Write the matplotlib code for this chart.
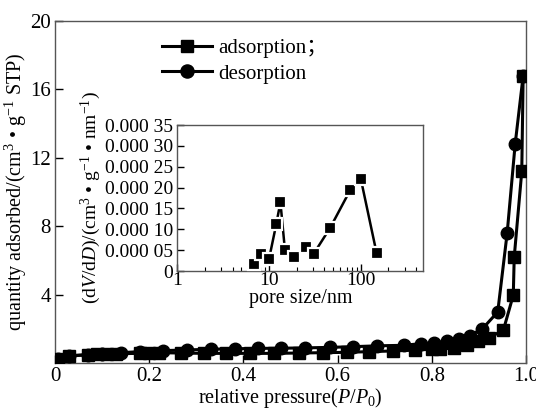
import matplotlib
matplotlib.use("Agg")
import matplotlib.pyplot as plt
from matplotlib.ticker import FixedLocator, NullFormatter, LogLocator

plt.rcParams['font.family'] = ['Liberation Serif', 'Noto Sans CJK SC', 'DejaVu Serif']
plt.rcParams['mathtext.fontset'] = 'custom'
plt.rcParams['mathtext.rm'] = 'Liberation Serif'
plt.rcParams['mathtext.it'] = 'Liberation Serif:italic'

# ---- main isotherm data ----
ads_x = [0.007, 0.03, 0.07, 0.09, 0.11, 0.13, 0.18, 0.20, 0.22, 0.267, 0.317, 0.364,
         0.415, 0.466, 0.517, 0.568, 0.619, 0.666, 0.717, 0.764, 0.80, 0.817, 0.848,
         0.874, 0.898, 0.922, 0.952, 0.973, 0.975, 0.991, 0.994]
ads_y = [0.28, 0.45, 0.50, 0.52, 0.54, 0.56, 0.58, 0.60, 0.62, 0.60, 0.58, 0.58,
         0.58, 0.58, 0.60, 0.62, 0.64, 0.68, 0.72, 0.77, 0.82, 0.85, 0.87,
         1.07, 1.32, 1.50, 1.94, 3.98, 6.2, 11.2, 16.8]
des_x = [0.007, 0.03, 0.07, 0.10, 0.14, 0.18, 0.23, 0.28, 0.331, 0.382, 0.43, 0.48,
         0.531, 0.584, 0.633, 0.684, 0.74, 0.778, 0.805, 0.832, 0.858, 0.881, 0.907,
         0.94, 0.960, 0.977, 0.994]
des_y = [0.28, 0.42, 0.50, 0.55, 0.62, 0.68, 0.74, 0.78, 0.82, 0.85, 0.87, 0.88,
         0.90, 0.93, 0.97, 1.02, 1.05, 1.15, 1.18, 1.32, 1.42, 1.62, 2.0,
         3.0, 7.6, 12.8, 16.8]

x_ticks = [0, 0.2, 0.4, 0.6, 0.8, 1.0]
x_ticklabels = ['0', '0.2', '0.4', '0.6', '0.8', '1.0']
y_ticks = [4, 8, 12, 16, 20]
y_ticklabels = ['4', '8', '12', '16', '20']

# ---- inset pore size distribution ----
pore_size = [6.8, 8.2, 10.0, 12.0, 13.3, 14.9, 18.7, 25.5, 30.6, 46.5, 76.7, 100, 149]
dvdd = [1.7e-5, 4.1e-5, 2.9e-5, 11.3e-5, 16.5e-5, 5.0e-5, 3.4e-5, 5.7e-5, 4.1e-5,
        10.4e-5, 19.4e-5, 22.1e-5, 4.2e-5]
inset_yticks = [0, 5e-5, 10e-5, 15e-5, 20e-5, 25e-5, 30e-5, 35e-5]
inset_yticklabels = ['0', '0.000 05', '0.000 10', '0.000 15', '0.000 20',
                     '0.000 25', '0.000 30', '0.000 35']
inset_xticks = [1, 10, 100]
inset_xticklabels = ['1', '10', '100']

W, H = 536, 408
fig = plt.figure(figsize=(W / 100, H / 100), dpi=100)
ax = fig.add_axes([55 / W, 1 - 363.3 / H, (526 - 55) / W, (363.3 - 20.7) / H])

spine_c = '#555555'
lw = 2.2
ax.plot(ads_x, ads_y, color='black', lw=lw, marker='s', ms=8,
        markeredgecolor='black', label='adsorption；', zorder=3)
ax.plot(des_x, des_y, color='black', lw=lw, marker='o', ms=9,
        markeredgecolor='black', label='desorption', zorder=3)
ax.set_xlim(0, 1.0)
ax.set_ylim(0, 20)
ax.set_xticks(x_ticks)
ax.set_xticklabels(x_ticklabels)
ax.set_yticks(y_ticks)
ax.set_yticklabels(y_ticklabels)
ax.tick_params(direction='in', length=6, width=1, labelsize=15, colors='black',
               pad=3)
for s in ax.spines.values():
    s.set_color(spine_c)
    s.set_linewidth(1.0)
ax.set_xlabel('relative pressure($P$/$P_0$)', fontsize=14.5, labelpad=0)
ax.set_ylabel('quantity adsorbed/(cm$^3$ • g$^{-1}$ STP)', fontsize=14.5, labelpad=1)

leg = ax.legend(loc='upper left', bbox_to_anchor=(0.2, 0.985), frameon=False,
                fontsize=15, handlelength=2.4, handletextpad=0.3,
                labelspacing=0.3, borderaxespad=0.2, markerscale=1.05)

# inset
ix0, ix1, iy0, iy1 = 177.3, 423.3, 125, 271
ax2 = fig.add_axes([ix0 / W, 1 - iy1 / H, (ix1 - ix0) / W, (iy1 - iy0) / H])
ax2.plot(pore_size, dvdd, color='black', lw=1.8, zorder=2)
ax2.plot(pore_size, dvdd, linestyle='none', marker='s', ms=9,
         markerfacecolor='black', markeredgecolor='white', markeredgewidth=1.6,
         zorder=3)
ax2.set_xscale('log')
ax2.set_xlim(1, 480)
ax2.set_ylim(0, 35e-5)
ax2.xaxis.set_major_locator(FixedLocator(inset_xticks))
ax2.set_xticklabels(inset_xticklabels)
ax2.xaxis.set_minor_locator(LogLocator(base=10, subs=range(2, 10)))
ax2.xaxis.set_minor_formatter(NullFormatter())
ax2.set_yticks(inset_yticks)
ax2.set_yticklabels(inset_yticklabels)
ax2.tick_params(which='major', direction='in', length=5, width=1, labelsize=14,
                pad=1)
ax2.tick_params(axis='y', which='major', pad=3)
ax2.tick_params(which='minor', direction='in', length=3, width=0.8)
for s in ax2.spines.values():
    s.set_color(spine_c)
    s.set_linewidth(1.0)
ax2.set_xlabel('pore size/nm', fontsize=14.5, labelpad=0)
ax2.set_ylabel('(d$V$/d$D$)/(cm$^3$ • g$^{-1}$ • nm$^{-1}$)', fontsize=14,
               labelpad=1)

fig.savefig('out.png', dpi=100)
